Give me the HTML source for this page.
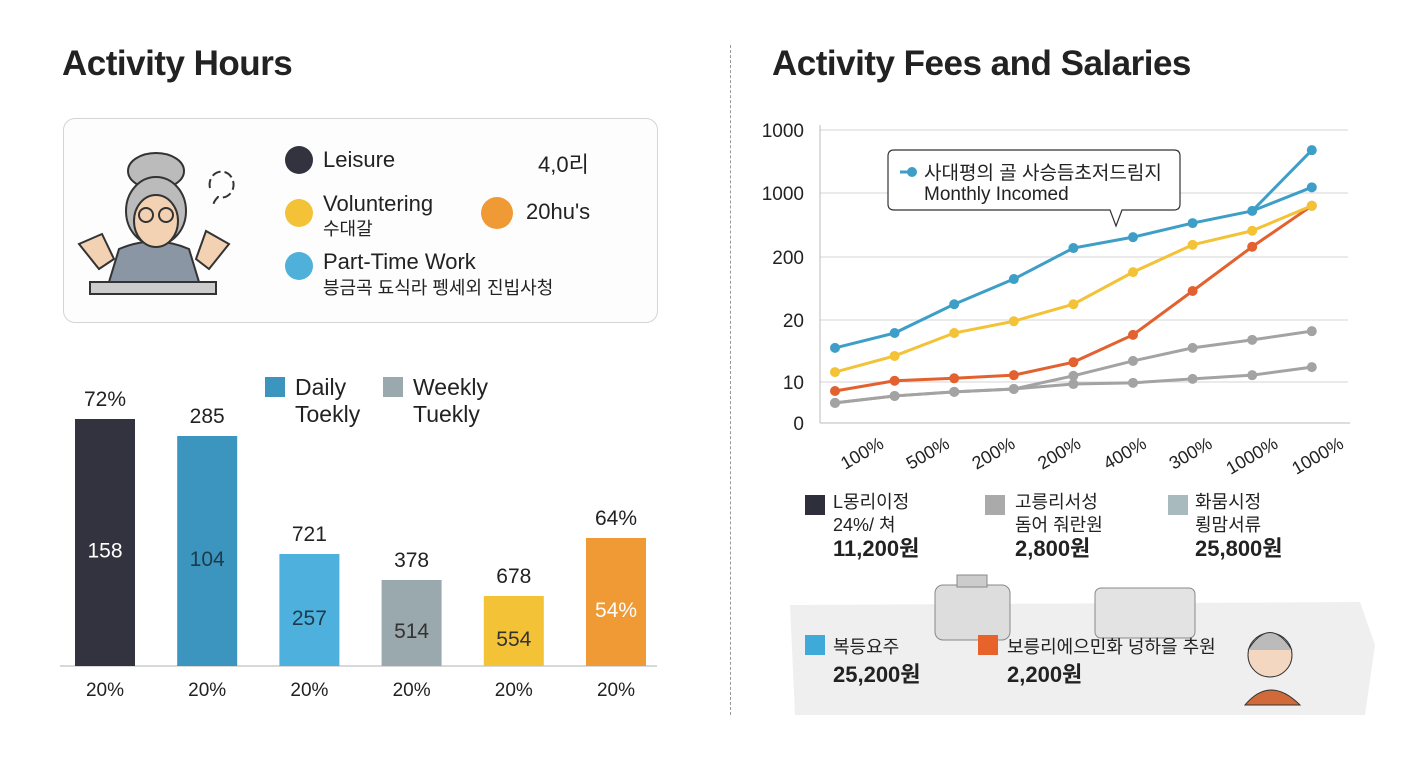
<!DOCTYPE html>
<html><head><meta charset="utf-8">
<style>
html,body{margin:0;padding:0;background:#fff;}
body{width:1408px;height:768px;position:relative;overflow:hidden;font-family:"Liberation Sans","Noto Sans CJK KR",sans-serif;color:#222;}
.abs{position:absolute;}
.title{font-size:35px;font-weight:bold;color:#222;letter-spacing:-0.5px;}
.lt{font-size:21px;color:#222;}
.ko{font-size:18px;color:#222;}
.dot{position:absolute;width:28px;height:28px;border-radius:50%;}
.sq{position:absolute;width:20px;height:20px;}
.big{font-size:22px;font-weight:bold;}
</style></head><body>
<div class="abs title" style="left:62px;top:44px">Activity Hours</div>
<div class="abs title" style="left:772px;top:44px">Activity Fees and Salaries</div>
<div class="abs" style="left:730px;top:45px;height:670px;border-left:1.5px dashed #999"></div>

<div class="abs" style="left:63px;top:118px;width:593px;height:203px;border:1.5px solid #d4d4d4;border-radius:12px;background:#fdfdfd">
  <svg class="abs" style="left:10px;top:30px" width="160" height="150">
    <rect x="16" y="133" width="126" height="12" fill="#ccc" stroke="#333" stroke-width="2"/>
    <path d="M35 133 L45 100 Q80 85 115 100 L125 133Z" fill="#8a96a3" stroke="#333" stroke-width="2"/>
    <ellipse cx="82" cy="22" rx="28" ry="18" fill="#bbb" stroke="#333" stroke-width="2"/>
    <ellipse cx="82" cy="62" rx="30" ry="34" fill="#bbb" stroke="#333" stroke-width="2"/>
    <ellipse cx="82" cy="72" rx="22" ry="26" fill="#f3d2b3" stroke="#333" stroke-width="2"/>
    <circle cx="72" cy="66" r="7" fill="none" stroke="#333" stroke-width="2"/><circle cx="92" cy="66" r="7" fill="none" stroke="#333" stroke-width="2"/>
    <path d="M5 95 L25 120 L40 110 L28 85Z" fill="#f3d2b3" stroke="#333" stroke-width="2"/>
    <path d="M155 95 L135 120 L122 110 L132 82Z" fill="#f3d2b3" stroke="#333" stroke-width="2"/>
  </svg>
  <svg class="abs" style="left:136px;top:44px" width="40" height="50"><path d="M10 25 A12 13 0 1 1 18 34 Q12 40 14 44" fill="none" stroke="#333" stroke-width="2" stroke-dasharray="9 4"/></svg>
  <div class="dot" style="left:221px;top:27px;background:#33323f"></div>
  <div class="abs lt" style="left:259px;top:28px;font-size:22px">Leisure</div>
  <div class="abs lt" style="left:474px;top:28px;font-size:22px">4,0리</div>
  <div class="dot" style="left:221px;top:80px;background:#f3c236"></div>
  <div class="abs lt" style="left:259px;top:73px;line-height:24px;font-size:22px">Voluntering<br><span class="ko">수대갈</span></div>
  <div class="dot" style="left:417px;top:78px;width:32px;height:32px;background:#ef9a35"></div>
  <div class="abs lt" style="left:462px;top:80px;font-size:22px">20hu's</div>
  <div class="dot" style="left:221px;top:133px;background:#4fb0d9"></div>
  <div class="abs lt" style="left:259px;top:130px;line-height:25px;font-size:22px">Part-Time Work<br><span class="ko">븡금곡 됴식라 펭세외 진빕사청</span></div>
</div>

<svg class="abs" style="left:0;top:360px" width="720" height="360" id="barsvg"></svg>
<div class="sq abs" style="left:265px;top:377px;background:#3b95bf"></div>
<div class="abs lt" style="left:295px;top:374px;line-height:27px;font-size:23px">Daily<br>Toekly</div>
<div class="sq abs" style="left:383px;top:377px;background:#9aa9ad"></div>
<div class="abs lt" style="left:413px;top:374px;line-height:27px;font-size:23px">Weekly<br>Tuekly</div>

<svg class="abs" style="left:740px;top:100px" width="668" height="390" id="linesvg"></svg>

<div class="sq abs" style="left:805px;top:495px;background:#2f2f3c"></div>
<div class="abs ko" style="left:833px;top:491px;line-height:23px">L몽리이정<br>24%/ 쳐<br><span class="big">11,200원</span></div>
<div class="sq abs" style="left:985px;top:495px;background:#aaa"></div>
<div class="abs ko" style="left:1015px;top:491px;line-height:23px">고릉리서성<br>돔어 줘란원<br><span class="big">2,800원</span></div>
<div class="sq abs" style="left:1168px;top:495px;background:#a8babd"></div>
<div class="abs ko" style="left:1195px;top:491px;line-height:23px">화뭄시정<br>룅맘서류<br><span class="big">25,800원</span></div>

<svg class="abs" style="left:780px;top:570px" width="600" height="150">
  <path d="M10 35 L580 32 L595 75 L585 145 L15 145 Z" fill="#efefef"/>
  <rect x="155" y="15" width="75" height="55" rx="8" fill="#ddd" stroke="#888"/>
  <rect x="315" y="18" width="100" height="50" rx="6" fill="#e3e3e3" stroke="#888"/>
  <rect x="177" y="5" width="30" height="12" fill="#ccc" stroke="#888"/>
  <circle cx="490" cy="85" r="22" fill="#f3d7c0" stroke="#333"/>
  <path d="M468 80 Q490 45 512 80" fill="#bbb" stroke="#333"/>
  <path d="M465 135 Q490 105 520 135Z" fill="#d06a3a" stroke="#333"/>
</svg>
<div class="sq abs" style="left:805px;top:635px;background:#3fa9d9"></div>
<div class="abs ko" style="left:833px;top:633px;line-height:28px">복등요주<br><span class="big">25,200원</span></div>
<div class="sq abs" style="left:978px;top:635px;background:#e8622c"></div>
<div class="abs ko" style="left:1007px;top:633px;line-height:28px">보릉리에으민화 넝하을 추원<br><span class="big">2,200원</span></div>

<script>
// ---- bar chart data ----
const barCategories = ["c1","c2","c3","c4","c5","c6"];
const barValues = [247, 230, 112, 86, 70, 128];
const barTopLabels = ["72%","285","721","378","678","64%"];
const barInnerLabels = ["158","104","257","514","554","54%"];
const barBottomLabels = ["20%","20%","20%","20%","20%","20%"];
const barColors = ["#33323f","#3b95bf","#4eb0dc","#9aa9ad","#f3c236","#ef9a35"];
const innerColors = ["#fff","#1d3b4a","#1d3b4a","#333","#333","#fff"];

// ---- line chart data ----
const xLabels = ["100%","500%","200%","200%","400%","300%","1000%","1000%"];
const yTickLabels = ["0","10","20","200","1000","1000"];
const seriesBlue = [1.55,1.79,2.25,2.65,3.14,3.31,3.53,3.72,4.09];
const seriesBlueTip = 4.68;
const seriesYellow = [1.16,1.42,1.79,1.98,2.25,2.76,3.19,3.41,3.80];
const seriesOrange = [0.78,1.02,1.06,1.11,1.32,1.76,2.46,3.16,3.80];
const seriesGrayA = [0.49,0.66,0.76,0.83,1.10,1.34,1.55,1.68,1.82];
const seriesGrayB = [0.49,0.66,0.76,0.83,0.95,0.98,1.05,1.11,1.24];

const NS="http://www.w3.org/2000/svg";
function mk(p,t,a){const e=document.createElementNS(NS,t);for(const k in a)e.setAttribute(k,a[k]);p.appendChild(e);return e;}

// bars
(function(){
const s=document.getElementById('barsvg');
const base=306;
const bx=i=>75+i*102.2, bw=60;
const by=v=>base-v;
mk(s,'line',{x1:60,x2:657,y1:base,y2:base,stroke:'#ccc','stroke-width':1.5});
barValues.forEach((v,i)=>{
  const r=mk(s,'rect',{x:bx(i),y:by(v),width:bw,height:v,fill:barColors[i]});
  
  
  const t=mk(s,'text',{x:bx(i)+bw/2,y:by(v)-13,'text-anchor':'middle','font-size':21,fill:'#222'});t.textContent=barTopLabels[i];
  
  
  const m=mk(s,'text',{x:bx(i)+bw/2,y:Math.max(by(v)+v/2,by(v)+30)+15,'text-anchor':'middle','font-size':21,fill:innerColors[i]});m.textContent=barInnerLabels[i];
  
  
  const b=mk(s,'text',{x:bx(i)+bw/2,y:base+30,'text-anchor':'middle','font-size':19,fill:'#222'});b.textContent=barBottomLabels[i];
  
  
});
})();

// lines
(function(){
const s=document.getElementById('linesvg');
const ox=740, oy=100;
const tickY=[423,382,320,257,193,130];
const yOf=l=>{const i=Math.min(Math.floor(l),4);return tickY[i]+(tickY[i+1]-tickY[i])*(l-i)-oy;};
const xOf=i=>835+i*59.6-ox;
const labX=i=>145+i*65.7;
yTickLabels.forEach((lab,i)=>{
  const y=yOf(i);
  if(i>0){const g=mk(s,'line',{x1:80,x2:608,y1:y,y2:y,stroke:'#ddd','stroke-width':1.2});
  
  }
  const t=mk(s,'text',{x:64,y:y+7,'text-anchor':'end','font-size':19,fill:'#222'});t.textContent=lab;
  
  
});
mk(s,'line',{x1:80,x2:80,y1:25,y2:yOf(0),stroke:'#bbb'});
mk(s,'line',{x1:80,x2:610,y1:yOf(0),y2:yOf(0),stroke:'#bbb'});
xLabels.forEach((lab,i)=>{
  const x=labX(i), y=yOf(0)+24;
  const t=mk(s,'text',{x:x,y:y,'text-anchor':'end','font-size':18,fill:'#222',transform:`rotate(-30 ${x} ${y})`});t.textContent=lab;
  
  
});
function series(vals,color,name){
  const pts=vals.map((v,i)=>[xOf(i),yOf(v)]);
  const p=mk(s,'polyline',{points:pts.map(p=>p.join(',')).join(' '),fill:'none',stroke:color,'stroke-width':3});
  
  
  pts.forEach(q=>{const c=mk(s,'circle',{cx:q[0],cy:q[1],r:5,fill:color});
  
  });
}
series(seriesGrayB,'#a3a3a3','gray-b');
series(seriesGrayA,'#a3a3a3','gray-a');
series(seriesOrange,'#e2612f','orange');
series(seriesYellow,'#f3c236','yellow');
series(seriesBlue,'#3d9fc7','blue');
const n=seriesBlue.length;
mk(s,'line',{x1:xOf(n-2),y1:yOf(seriesBlue[n-2]),x2:xOf(n-1),y2:yOf(seriesBlueTip),stroke:'#3d9fc7','stroke-width':3});
const tc=mk(s,'circle',{cx:xOf(n-1),cy:yOf(seriesBlueTip),r:5,fill:'#3d9fc7'});


// callout
const cb=mk(s,'path',{d:'M154 50 h280 q6 0 6 6 v48 q0 6 -6 6 h-52 l-6 16 l-6 -16 h-216 q-6 0 -6 -6 v-48 q0 -6 6 -6z',fill:'#fff',stroke:'#333','stroke-width':1.2});


mk(s,'line',{x1:160,x2:176,y1:72,y2:72,stroke:'#3d9fc7','stroke-width':3});
mk(s,'circle',{cx:172,cy:72,r:5,fill:'#3d9fc7'});
const c1=mk(s,'text',{x:184,y:79,'font-size':19,fill:'#222'});c1.textContent='사대평의 골 사승듬초저드림지';
const c2=mk(s,'text',{x:184,y:100,'font-size':19,fill:'#222'});c2.textContent='Monthly Incomed';
})();
</script>
</body></html>
